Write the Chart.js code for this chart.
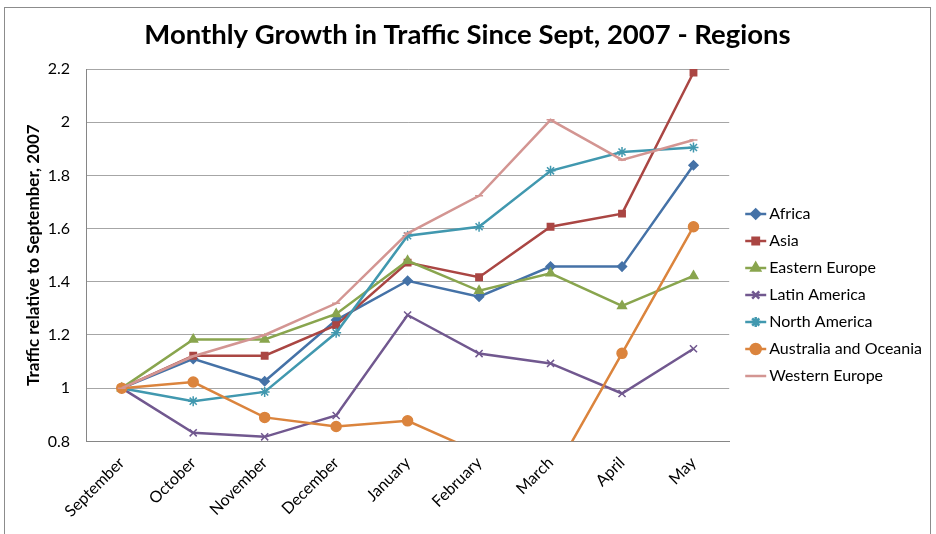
<!DOCTYPE html>
<html>
<head>
<meta charset="utf-8">
<script src="https://cdn.jsdelivr.net/npm/chart.js@4"></script>
<style>
  html, body { margin: 0; padding: 0; background: #fff; }
  #wrap { width: 936px; height: 534px; position: relative; }
</style>
</head>
<body>
<div id="wrap"><canvas id="c" width="936" height="534"></canvas></div>
<script>
const categories = ['September', 'October', 'November', 'December', 'January', 'February', 'March', 'April', 'May'];
const africa        = [1, 1.110, 1.026, 1.256, 1.404, 1.344, 1.457, 1.457, 1.838];
const asia          = [1, 1.122, 1.122, 1.237, 1.472, 1.417, 1.607, 1.656, 2.187];
const easternEurope = [1, 1.183, 1.183, 1.279, 1.479, 1.366, 1.432, 1.309, 1.422];
const latinAmerica  = [1, 0.832, 0.817, 0.897, 1.275, 1.130, 1.093, 0.980, 1.148];
const northAmerica  = [1, 0.951, 0.986, 1.208, 1.573, 1.607, 1.817, 1.888, 1.905];
const australia     = [1, 1.023, 0.890, 0.856, 0.877, 0.758, 0.657, 1.131, 1.607];
const westernEurope = [1, 1.120, 1.200, 1.319, 1.582, 1.723, 2.009, 1.858, 1.933];
const yTicks = [0.8, 1, 1.2, 1.4, 1.6, 1.8, 2, 2.2];

const seriesDefs = [
  { label: 'Africa', data: africa, color: '#4572A7', style: 'rectRot', r: 4.5 },
  { label: 'Asia', data: asia, color: '#AA4643', style: 'rect', r: 4.5 },
  { label: 'Eastern Europe', data: easternEurope, color: '#89A54E', style: 'triangle', r: 5 },
  { label: 'Latin America', data: latinAmerica, color: '#71588F', style: 'crossRot', r: 5 },
  { label: 'North America', data: northAmerica, color: '#4198AF', style: 'star', r: 5 },
  { label: 'Australia and Oceania', data: australia, color: '#DB843D', style: 'circle', r: 5 },
  { label: 'Western Europe', data: westernEurope, color: '#D39592', style: 'line', r: 4 }
];

const FONT = 'Lato, "Open Sans", sans-serif';

const frame = {
  id: 'frame',
  afterLayout(chart) {
    if (chart.titleBlock) {
      chart.titleBlock.left = 4;
      chart.titleBlock.right = 931;
    }
  },
  beforeDraw(chart) {
    const ctx = chart.ctx;
    ctx.save();
    ctx.fillStyle = '#fff';
    ctx.fillRect(0, 0, chart.width, chart.height);
    ctx.strokeStyle = '#8c8c8c';
    ctx.lineWidth = 1;
    ctx.strokeRect(4.5, 7.5, 926, 600);
    ctx.restore();
  }
};

const legendMarks = {
  id: 'legendMarks',
  afterDraw(chart) {
    const lg = chart.legend;
    if (!lg || !lg.legendHitBoxes) return;
    const ctx = chart.ctx;
    lg.legendItems.forEach((item, i) => {
      const hb = lg.legendHitBoxes[i];
      const def = seriesDefs[item.datasetIndex];
      const cy = hb.top + hb.height / 2;
      const x0 = hb.left + 5;
      ctx.save();
      ctx.strokeStyle = def.color;
      ctx.lineWidth = 2.5;
      ctx.beginPath();
      ctx.moveTo(x0, cy);
      ctx.lineTo(x0 + 21, cy);
      ctx.stroke();
      ctx.fillStyle = def.color;
      ctx.strokeStyle = def.color;
      if (def.style !== 'line') {
        Chart.helpers.drawPoint(ctx, {
          pointStyle: def.style,
          radius: def.r,
          borderWidth: 1.5,
          rotation: 0
        }, x0 + 10.5, cy);
      }
      ctx.restore();
    });
  }
};

const datasets = seriesDefs.map((s, i) => ({
  label: s.label,
  data: s.data,
  borderColor: s.color,
  backgroundColor: s.color,
  pointBackgroundColor: s.color,
  pointBorderColor: s.color,
  pointStyle: s.style,
  pointRadius: s.r,
  pointBorderWidth: 1.5,
  borderWidth: 2.5,
  tension: 0,
  fill: false,
  clip: 0,
  order: seriesDefs.length - i
}));

new Chart(document.getElementById('c'), {
  type: 'line',
  data: { labels: categories, datasets },
  options: {
    responsive: false,
    animation: false,
    devicePixelRatio: 1,
    layout: { padding: { top: 7, left: 19, right: 4, bottom: 1 } },
    plugins: {
      title: {
        display: true,
        text: 'Monthly Growth in Traffic Since Sept, 2007 - Regions',
        color: '#000',
        font: { family: FONT, size: 27.5, weight: 'bold' },
        padding: { top: 12, bottom: 17 }
      },
      legend: {
        display: true,
        position: 'right',
        title: { display: true, text: ' ', font: { size: 10 }, padding: 19 },
        labels: {
          color: '#000',
          font: { family: FONT, size: 16 },
          boxWidth: 21,
          boxHeight: 0,
          padding: 11,
          sort: (a, b) => a.datasetIndex - b.datasetIndex,
          generateLabels(chart) {
            const items = Chart.defaults.plugins.legend.labels.generateLabels(chart);
            items.forEach(it => {
              it.fillStyle = 'rgba(0,0,0,0)';
              it.strokeStyle = 'rgba(0,0,0,0)';
              it.lineWidth = 0;
            });
            return items;
          }
        }
      },
      tooltip: { enabled: false }
    },
    scales: {
      x: {
        offset: true,
        grid: { display: false, drawTicks: false },
        border: { display: true, color: '#868686', width: 1 },
        afterFit(scale) { scale.paddingLeft = 0; scale.paddingRight = 0; },
        ticks: {
          color: '#000',
          font: { family: FONT, size: 16 },
          minRotation: 45,
          maxRotation: 45,
          padding: 12,
          autoSkip: false
        }
      },
      y: {
        min: 0.8,
        max: 2.2,
        afterBuildTicks(scale) {
          scale.ticks = yTicks.map(v => ({ value: v }));
        },
        afterFit(scale) { scale.width = 67; },
        grid: { color: '#a6a6a6', lineWidth: 1, drawTicks: false },
        border: { display: true, color: '#868686', width: 1 },
        ticks: {
          color: '#000',
          font: { family: FONT, size: 16 },
          padding: 16,
          callback: v => String(Math.round(v * 10) / 10)
        },
        title: {
          display: true,
          text: 'Traffic relative to September, 2007',
          color: '#000',
          font: { family: FONT, size: 17, weight: 'bold' },
          padding: { top: 4, bottom: 6 }
        }
      }
    }
  },
  plugins: [frame, legendMarks]
});
</script>
</body>
</html>
